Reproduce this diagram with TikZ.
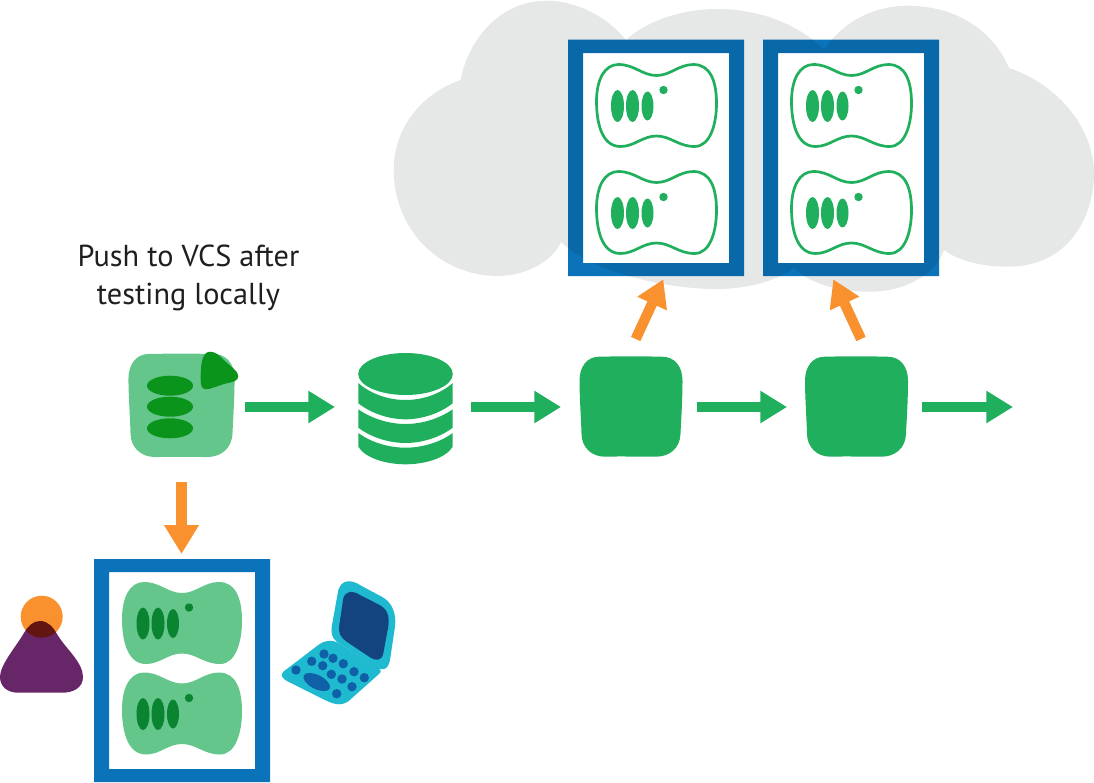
\documentclass[tikz,border=0pt]{standalone}
\usepackage{fontspec}
\setmainfont{PT Sans}
\usetikzlibrary{arrows.meta}
\definecolor{cloudgrey}{HTML}{E6E8E7}
\definecolor{rackblue}{HTML}{0A73BA}
\definecolor{flowgreen}{HTML}{20AF5C}
\definecolor{palegreen}{HTML}{65C68C}
\definecolor{darkgreen}{HTML}{0B8431}
\definecolor{workgreen}{HTML}{0B941C}
\definecolor{pushorange}{HTML}{F9922E}
\definecolor{userpurple}{HTML}{662668}
\definecolor{lapteal}{HTML}{1FB9D0}
\definecolor{lapfold}{HTML}{178FAE}
\definecolor{lapscreen}{HTML}{14447F}
\definecolor{lapkey}{HTML}{1060A8}
\newcommand{\lidoutline}{(338.3,590) .. controls (341.7,580) and (350,578.3) .. (361.7,586) -- (381.7,596.7)
  .. controls (391.7,601.7) and (396.7,613.3) .. (395,626.7) -- (390,660)
  .. controls (388.3,670) and (381.7,671.7) .. (375,666.7) -- (336.7,641.7)
  .. controls (331.7,638.3) and (331,631.7) .. (331.7,626.7) -- cycle}
\newcommand{\baseoutline}{(283.3,671.7) -- (318.3,645) .. controls (325,640) and (333.3,639.3) .. (340,644)
  -- (375,666.7) .. controls (381.7,670) and (382,671) .. (379,674) -- (351.7,698.3)
  .. controls (343.3,707) and (335,705) .. (325,700) -- (288.3,681.7)
  .. controls (281.7,678.3) and (280,675) .. (283.3,671.7) -- cycle}
\tikzset{
  flow/.style={line width=10.3pt, flowgreen, -{Triangle[length=26.7pt,width=30.7pt]}},
  push/.style={line width=10.3pt, pushorange, -{Triangle[length=26.7pt,width=30.7pt]}},
  pushdown/.style={line width=11.3pt, pushorange, -{Triangle[length=29pt,width=33pt]}},
  iconbox/.style={inner sep=0pt, outer sep=0pt, minimum width=#1, minimum height=100pt},
  rack/.style={fill=white, inner sep=0pt, outer sep=0pt, minimum width=146pt},
  slab/.pic={
    \path[pic actions] (0,-30) .. controls (-14,-30) and (-22,-41) .. (-38,-41)
      .. controls (-52,-41) and (-60,-26) .. (-60,-4)
      .. controls (-60,14) and (-56,41) .. (-36,41)
      .. controls (-22,41) and (-14,30.5) .. (0,30.5)
      .. controls (14,30.5) and (22,41) .. (38,41)
      .. controls (54,41) and (60,18) .. (60,-2)
      .. controls (60,-24) and (54,-41) .. (37,-41)
      .. controls (22,-41) and (14,-30) .. (0,-30) -- cycle;
    \fill[#1] (-39,0.5) ellipse [x radius=6.5, y radius=16];
    \fill[#1] (-24,0.5) ellipse [x radius=6.5, y radius=16];
    \fill[#1] (-9,0.5) ellipse [x radius=6, y radius=14.5];
    \fill[#1] (7,-15.5) circle (4.2);
  },
  chip/.pic={
    \path[pic actions] (-32,-50) .. controls (-10,-50.5) and (10,-50.5) .. (31,-50)
      .. controls (44,-50) and (51.5,-40) .. (51.5,-26)
      .. controls (51.5,-5) and (50,15) .. (49.5,27)
      .. controls (49,42) and (38,50) .. (25,50)
      .. controls (5,50) and (-10,49.5) .. (-26,50)
      .. controls (-40,50) and (-49.5,40) .. (-49.5,27)
      .. controls (-50,10) and (-51.5,-10) .. (-51.5,-26)
      .. controls (-51.5,-40) and (-44,-50) .. (-32,-50) -- cycle;
  }
}
\begin{document}
\begin{tikzpicture}[x=1pt, y=-1pt]
\useasboundingbox (0,0) rectangle (1094,782);

% cloud
\fill[cloudgrey] (460.6,80) .. controls (468,40) and (500,0.7) .. (546,0.7)
  .. controls (580,0.7) and (610,20) .. (626,40)
  .. controls (645,22) and (680,9) .. (717,9)
  .. controls (760,9) and (800,25) .. (824,50)
  .. controls (840,25) and (870,5.7) .. (908,5.7)
  .. controls (955,5.7) and (993,30) .. (1009,68)
  .. controls (1060,85) and (1094,130) .. (1094,173)
  .. controls (1094,215) and (1070,266.7) .. (1008,266.7)
  .. controls (985,266.7) and (960,262) .. (944,250)
  .. controls (935,275) and (905,291.7) .. (869.5,291.7)
  .. controls (840,291.7) and (812,285) .. (794,268)
  .. controls (775,282) and (745,289) .. (717,289)
  .. controls (660,289) and (590,270) .. (561,242)
  .. controls (552,262) and (525,276) .. (498,276)
  .. controls (440,276) and (393.7,230) .. (393.7,170)
  .. controls (393.7,125) and (425,92) .. (460.6,80) -- cycle;

% racks
\node[rack, minimum height=210pt] (rack1) at (656,158) {};
\node[rack, minimum height=210pt] (rack2) at (851,158) {};
\node[rack, minimum height=197pt] (rack3) at (182,670.5) {};
\fill[rackblue, blend mode=multiply, even odd rule] (568,39.5) rectangle (744,276) (583,53) rectangle (729,263);
\fill[rackblue, blend mode=multiply, even odd rule] (763,39.5) rectangle (939,276) (778,53) rectangle (924,263);
\fill[rackblue, even odd rule] (94,559) rectangle (270,782) (109,572) rectangle (255,769);

\pic[draw=flowgreen, line width=2.7pt, fill=white] at (656.5,105.5) {slab=flowgreen};
\pic[draw=flowgreen, line width=2.7pt, fill=white] at (656.5,212.5) {slab=flowgreen};
\pic[draw=flowgreen, line width=2.7pt, fill=white] at (851.5,105.5) {slab=flowgreen};
\pic[draw=flowgreen, line width=2.7pt, fill=white] at (851.5,212.5) {slab=flowgreen};
\pic[fill=palegreen] at (182,623) {slab=darkgreen};
\pic[fill=palegreen] at (182,713.5) {slab=darkgreen};

% pipeline
\node[iconbox=107pt] (work) at (181.5,407) {};
\node[iconbox=95pt] (store) at (405.5,407) {};
\node[iconbox=103pt] (stage1) at (631,407) {};
\node[iconbox=103pt] (stage2) at (856.5,407) {};
\coordinate (out) at (1013,407);

\pic[fill=palegreen, xscale=1.03, yscale=1.03] at (181.5,405.5) {chip};
\fill[workgreen] (170,385.7) ellipse [x radius=23, y radius=10];
\fill[workgreen] (170,406.7) ellipse [x radius=23, y radius=10];
\fill[workgreen] (170,428.3) ellipse [x radius=23, y radius=10];
\fill[workgreen] (210,351.7) .. controls (216,351.7) and (220,356) .. (225,361)
  .. controls (231,367) and (238.3,371) .. (238.3,376)
  .. controls (238.3,381) and (233,382) .. (226,383.5)
  .. controls (218,385.5) and (211,389.3) .. (206,389.3)
  .. controls (201,389.3) and (200.7,384) .. (200.7,379)
  .. controls (200.7,368) and (201,351.7) .. (210,351.7) -- cycle;

\pic[fill=flowgreen] at (631,406.7) {chip};
\pic[fill=flowgreen] at (856.5,406.7) {chip};

% database
\fill[flowgreen] (405.5,374) ellipse [x radius=47.3, y radius=21];
\fill[flowgreen] (358.3,383) .. controls (372,395) and (390,400) .. (405.5,400)
  .. controls (421,400) and (439,395) .. (452.7,383) -- (452.7,403.3)
  .. controls (439,414) and (421,419.3) .. (405.5,419.3)
  .. controls (390,419.3) and (372,414) .. (358.3,403.3) -- cycle;
\fill[flowgreen] (358.3,409.3) .. controls (372,419) and (390,424) .. (405.5,424)
  .. controls (421,424) and (439,419) .. (452.7,409.3) -- (452.7,427.7)
  .. controls (439,438) and (421,443) .. (405.5,443)
  .. controls (390,443) and (372,438) .. (358.3,427.7) -- cycle;
\fill[flowgreen] (358.3,433) .. controls (372,443) and (390,447.7) .. (405.5,447.7)
  .. controls (421,447.7) and (439,443) .. (452.7,433) -- (452.7,446.7)
  .. controls (446,458) and (425,464.3) .. (405.5,464.3)
  .. controls (386,464.3) and (365,458) .. (358.3,446.7) -- cycle;

% arrows
\draw[flow, shorten <=10pt, shorten >=23pt] (work.east) -- (store.west);
\draw[flow, shorten <=18pt, shorten >=18.5pt] (store.east) -- (stage1.west);
\draw[flow, shorten <=14pt, shorten >=18pt] (stage1.east) -- (stage2.west);
\draw[flow, shorten <=14pt] (stage2.east) -- (out);

\draw[pushdown] ([shift={(0,25.3)}]work.south) -- ([shift={(-0.5,-18)}]rack3.north);
\draw[push] ([shift={(4.7,-18)}]stage1.north) -- ([shift={(7.3,16.3)}]rack1.south);
\draw[push] ([shift={(4.5,-18)}]stage2.north) -- ([shift={(-17.7,16.3)}]rack2.south);

\node[font=\fontsize{30.3}{38}\selectfont, text=black!88, align=center, inner sep=0pt] (note) at (188.5,278) {Push to VCS after\\testing locally};

% user
\fill[pushorange] (41.7,616.7) circle (21);
\fill[userpurple, blend mode=multiply] (40,621) .. controls (48,621) and (53,627) .. (57,634)
  .. controls (65,648) and (83,662) .. (83,677)
  .. controls (83,688) and (73,692.7) .. (62,692.7) -- (18,692.7)
  .. controls (8,692.7) and (0,687) .. (0,677)
  .. controls (0,665) and (15,648) .. (24,633)
  .. controls (28,626) and (33,621) .. (40,621) -- cycle;

% laptop
\fill[lapteal] \lidoutline;
\fill[lapscreen] (343.3,598.3) .. controls (345.7,590) and (353.3,590.7) .. (360,595) -- (378.3,604.3)
  .. controls (386.7,608.3) and (390,615) .. (388.3,626.7) -- (383.3,653.3)
  .. controls (381.7,661.7) and (375,660.7) .. (370,657.3) -- (346.7,641.7)
  .. controls (340,636.7) and (338.3,633.3) .. (339.3,625) -- cycle;
\fill[lapteal] \baseoutline;
\begin{scope}
\clip \lidoutline;
\fill[lapfold] \baseoutline;
\end{scope}
\foreach \kx/\ky in {296/670,311.7/661.3,324/654,333/658.3,322.7/665.7,343.3/663.7,331.3/674.3,354/671.7,342/679,364.3/677.7,352/686.7,336.7/693.7}
  \fill[lapkey] (\kx,\ky) circle (4.7);
\fill[lapkey] (316.7,682) ellipse [x radius=14.5, y radius=7, rotate=-27];
\end{tikzpicture}
\end{document}
